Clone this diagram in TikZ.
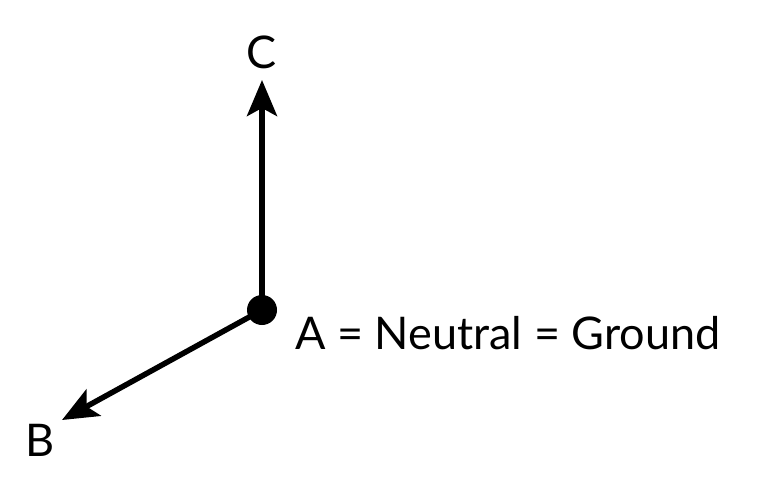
\documentclass[tikz,border=0pt]{standalone}
\usepackage{fontspec}
\setmainfont{Lato}
\usetikzlibrary{arrows.meta}
\begin{document}
\begin{tikzpicture}[x=1pt,y=-1pt,
  vec/.style={line width=5.5pt,-{Stealth[length=36pt,width=30pt,inset=8pt]}},
  lbl/.style={font=\fontsize{45}{45}\selectfont,inner sep=0pt}]
\useasboundingbox (0,0) rectangle (775,479);
\fill (262,310) circle (15);
\node (A) at (262,310) {};
\coordinate (Ct) at (262,80);
\coordinate (Bt) at (62,420);
\draw[vec] (262,310) -- (Ct);
\draw[vec] (262,310) -- (Bt);
\node[lbl] (C) at (262,52) {C};
\node[lbl] (B) at (40,440) {B};
\node[lbl,anchor=west] (T) at (295,333) {A = Neutral = Ground};
\end{tikzpicture}
\end{document}
